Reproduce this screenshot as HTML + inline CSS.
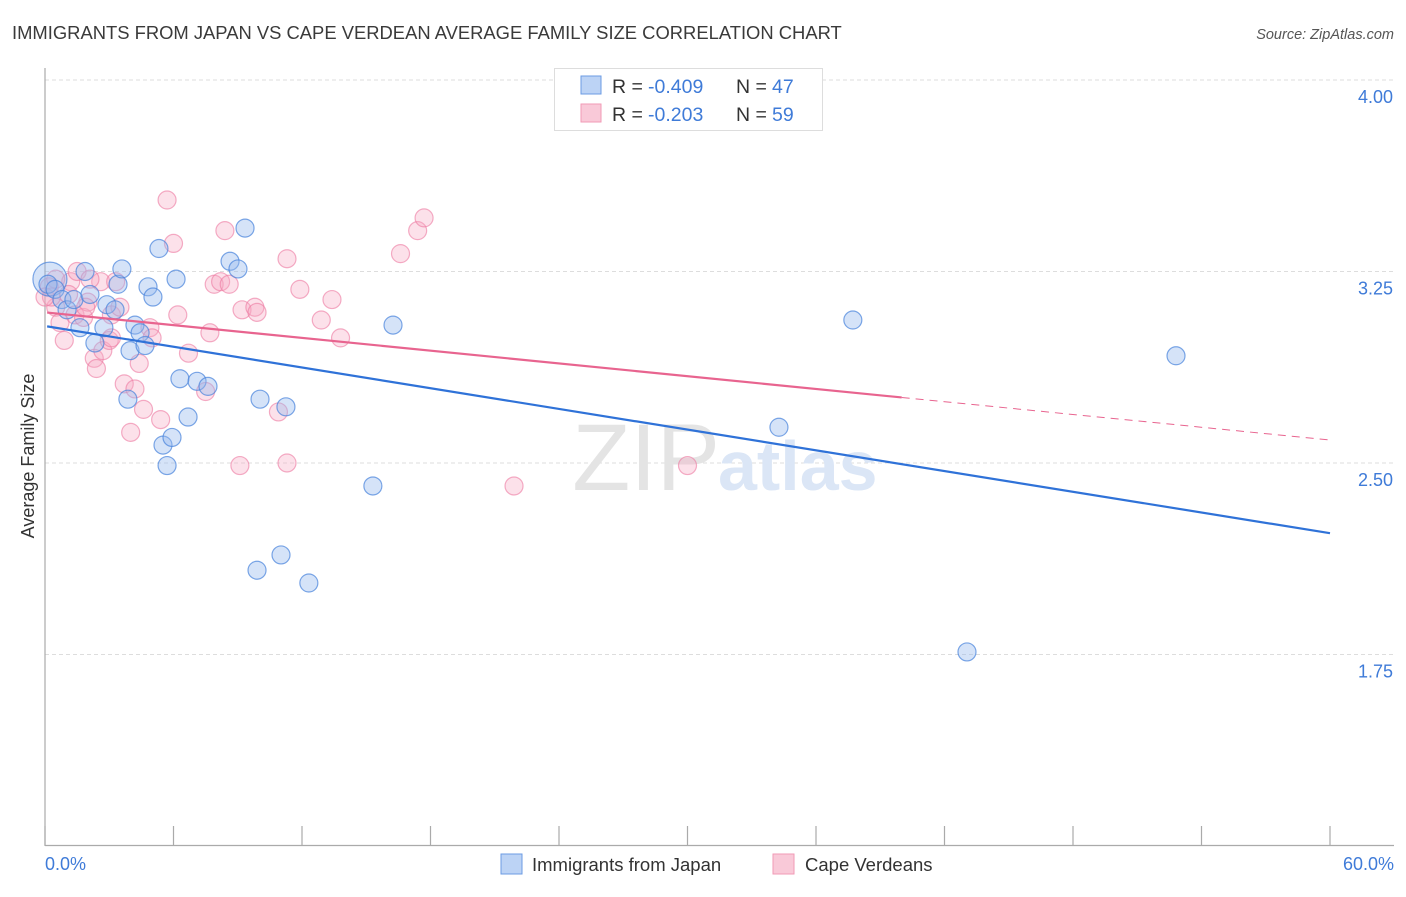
<!DOCTYPE html>
<html><head><meta charset="utf-8"><style>
body{margin:0;background:#fff;font-family:"Liberation Sans",sans-serif;}
svg text{font-family:"Liberation Sans",sans-serif;}
</style></head><body>
<svg width="1406" height="892" viewBox="0 0 1406 892">
<text x="12" y="39" font-size="18.4" fill="#3a3a3a">IMMIGRANTS FROM JAPAN VS CAPE VERDEAN AVERAGE FAMILY SIZE CORRELATION CHART</text>
<text x="1394" y="39" font-size="14.5" fill="#555" font-style="italic" text-anchor="end">Source: ZipAtlas.com</text>
<g id="grid"></g>
<text x="720" y="490" font-size="95" fill="#e4e4e4" text-anchor="end" font-family="Liberation Serif">ZIP</text>
<text x="718" y="490" font-size="70" fill="#dbe6f6" font-weight="bold">atlas</text>
<line x1="45" y1="68" x2="45" y2="846" stroke="#aaa" stroke-width="1.2"/>
<line x1="45" y1="845.5" x2="1394" y2="845.5" stroke="#aaa" stroke-width="1.2"/>
<g id="ticks"></g>
<g id="pts"></g>
<g id="trends"></g>
<text x="34" y="456" font-size="18" fill="#333" text-anchor="middle" transform="rotate(-90 34 456)">Average Family Size</text>
<text x="45" y="870" font-size="18" fill="#3f7bd8">0.0%</text>
<text x="1394" y="870" font-size="18" fill="#3f7bd8" text-anchor="end">60.0%</text>
<g>
<rect x="554.5" y="68.5" width="268" height="62" fill="#fff" stroke="#ddd"/>
<rect x="581" y="76" width="20" height="18" fill="#bcd3f5" stroke="#6b9be3"/>
<rect x="581" y="104" width="20" height="18" fill="#f9c9d8" stroke="#f19ab6"/>
<text x="612" y="93" font-size="19.5" fill="#333">R =</text>
<text x="648" y="93" font-size="19.5" fill="#3f7bd8">-0.409</text>
<text x="736" y="93" font-size="19.5" fill="#333">N =</text>
<text x="772" y="93" font-size="19.5" fill="#3f7bd8">47</text>
<text x="612" y="121" font-size="19.5" fill="#333">R =</text>
<text x="648" y="121" font-size="19.5" fill="#3f7bd8">-0.203</text>
<text x="736" y="121" font-size="19.5" fill="#333">N =</text>
<text x="772" y="121" font-size="19.5" fill="#3f7bd8">59</text>
</g>
<g>
<rect x="501" y="854" width="21" height="20" fill="#bcd3f5" stroke="#6b9be3"/>
<text x="532" y="871" font-size="18.5" fill="#333">Immigrants from Japan</text>
<rect x="773" y="854" width="21" height="20" fill="#f9c9d8" stroke="#f19ab6"/>
<text x="805" y="871" font-size="18.5" fill="#333">Cape Verdeans</text>
</g>
</svg>
<script>
const yTicks=[4.00,3.25,2.50,1.75];
const yTickLabels=["4.00","3.25","2.50","1.75"];
const xTicks=[0,6,12,18,24,30,36,42,48,54,60];
const japanX=[0.23,0.14,0.47,0.79,1.03,1.35,1.63,1.87,2.10,2.33,2.75,2.89,3.27,3.41,3.59,3.87,3.97,4.20,4.44,4.67,4.81,5.04,5.32,5.51,5.70,5.93,6.12,6.30,6.68,7.10,7.61,8.64,9.01,9.34,9.90,10.04,11.02,11.25,12.32,15.31,16.25,34.27,37.72,43.05,52.81];
const japanY=[3.22,3.20,3.18,3.14,3.10,3.14,3.03,3.25,3.16,2.97,3.03,3.12,3.10,3.20,3.26,2.75,2.94,3.04,3.01,2.96,3.19,3.15,3.34,2.57,2.49,2.60,3.22,2.83,2.68,2.82,2.80,3.29,3.26,3.42,2.08,2.75,2.14,2.72,2.03,2.41,3.04,2.64,3.06,1.76,2.92];
const capeX=[0.2,0.5,0.7,0.9,1.2,1.4,1.5,1.8,2.0,2.3,2.4,2.6,2.7,3.0,3.1,3.3,3.5,3.7,4.0,4.2,4.4,4.6,4.9,5.0,5.4,5.7,6.0,6.2,6.7,7.5,7.7,7.9,8.2,8.4,8.6,9.1,9.2,9.8,9.9,10.9,11.3,11.3,11.9,12.9,13.4,13.8,16.6,17.4,17.7,21.9,30.0,0.3,1.1,1.9,0.0,0.5,2.1,3.1];
const capeY=[3.19,3.11,3.05,2.98,3.21,3.08,3.25,3.07,3.13,2.91,2.87,3.21,2.94,2.98,3.08,3.21,3.11,2.81,2.62,2.79,2.89,2.71,3.03,2.99,2.67,3.53,3.36,3.08,2.93,2.78,3.01,3.20,3.21,3.41,3.20,2.49,3.10,3.11,3.09,2.70,3.30,2.50,3.18,3.06,3.14,2.99,3.32,3.41,3.46,2.41,2.49,3.15,3.16,3.11,3.15,3.22,3.22,2.99];
const x=v=>45+v/60*1285;
const y=v=>80+(4-v)*255.33;
const NS="http://www.w3.org/2000/svg";
function mk(t,a,p){const e=document.createElementNS(NS,t);for(const k in a)e.setAttribute(k,a[k]);p.appendChild(e);return e;}
const grid=document.getElementById('grid');
yTicks.forEach((v,i)=>{
 const l=mk('line',{x1:45,x2:1394,y1:y(v),y2:y(v),stroke:'#ddd','stroke-dasharray':'4 3'},grid);
 
 
 const t=mk('text',{x:1393,y:y(v)+23,'font-size':18,fill:'#3f7bd8','text-anchor':'end'},grid);
 t.textContent=yTickLabels[i];
 
 
});
const tk=document.getElementById('ticks');
xTicks.forEach(v=>{
 const l=mk('line',{x1:x(v),x2:x(v),y1:826,y2:845,stroke:'#aaa','stroke-width':1.2},tk);
 
 
});
const pts=document.getElementById('pts');
capeX.forEach((v,i)=>{
 const c=mk('circle',{cx:x(v),cy:y(capeY[i]),r:9,fill:'rgba(246,170,196,0.35)',stroke:'rgba(236,120,160,0.6)','stroke-width':1.2},pts);
 
 
});
japanX.forEach((v,i)=>{
 const c=mk('circle',{cx:x(v),cy:y(japanY[i]),r:i==0?17:9,fill:'rgba(150,185,238,0.4)',stroke:'rgba(70,130,220,0.7)','stroke-width':1.2},pts);
 
 
});
const tr=document.getElementById('trends');
const jb=[3.035,2.225], cb=[3.09,2.59];
const bl=mk('line',{x1:x(0.1),y1:y(jb[0]),x2:x(60),y2:y(jb[1]),stroke:'#2f72d8','stroke-width':2.2},tr);


const cv=v=>cb[0]+(cb[1]-cb[0])*v/60;
const pl=mk('line',{x1:x(0.1),y1:y(cv(0.1)),x2:x(40),y2:y(cv(40)),stroke:'#e8648f','stroke-width':2.2},tr);


const pd=mk('line',{x1:x(40),y1:y(cv(40)),x2:x(60),y2:y(cv(60)),stroke:'#e8648f','stroke-width':1,'stroke-dasharray':'8 6'},tr);


</script>
</body></html>
